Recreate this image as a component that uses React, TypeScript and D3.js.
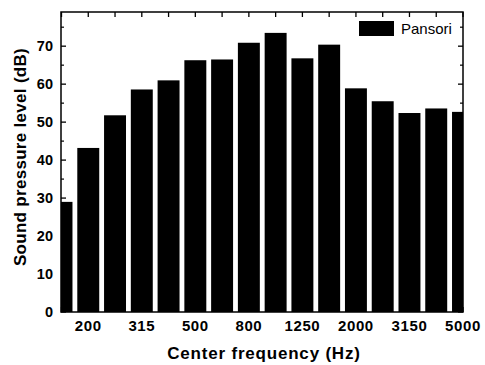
import React from "react";
import * as d3 from "d3";

const categories = ["160","200","250","315","400","500","630","800","1000","1250","1600","2000","2500","3150","4000","5000"];
const pansori = [29.0, 43.2, 51.8, 58.6, 61.0, 66.3, 66.5, 70.9, 73.5, 66.8, 70.4, 58.9, 55.5, 52.4, 53.6, 52.7];
const labeledCategories = ["200","315","500","800","1250","2000","3150","5000"];
const yTicks = [0, 10, 20, 30, 40, 50, 60, 70];
const yMinorTicks = [5, 15, 25, 35, 45, 55, 65, 75];
const seriesName = "Pansori";

export default function App() {
  const W = 485, H = 365;
  const L = 61, T = 12, R = 463, B = 312;
  const x = d3.scalePoint<string>().domain(categories).range([61.5, 463]).padding(0);
  const y = d3.scaleLinear().domain([0, 79]).range([B, T]);
  const bw = x.step() * 0.82;
  const font = "'Liberation Sans', Arial, sans-serif";
  return (
    <svg width={W} height={H} style={{ position: "absolute", left: 0, top: 0, background: "#fff" }}>
      <defs>
        <clipPath id="plot"><rect x={L} y={T} width={R - L} height={B - T} /></clipPath>
      </defs>
      <g clipPath="url(#plot)">
        {categories.map((c, i) => (
          <rect key={c} x={(x(c) as number) - bw / 2} y={y(pansori[i])} width={bw} height={B - y(pansori[i])} fill="#000" />
        ))}
      </g>
      <rect x={L} y={T} width={R - L} height={B - T} fill="none" stroke="#000" strokeWidth={1.5} />
      {categories.map((c) => (
        <g key={"t" + c}>
          <line x1={x(c)} x2={x(c)} y1={T} y2={T + 5} stroke="#000" strokeWidth={1.3} />
          <line x1={x(c)} x2={x(c)} y1={B} y2={B - 5} stroke="#000" strokeWidth={1.3} />
        </g>
      ))}
      {yTicks.map((v) => (
        <g key={"y" + v}>
          <line x1={L} x2={L + 5} y1={y(v)} y2={y(v)} stroke="#000" strokeWidth={1.3} />
          <line x1={R} x2={R - 5} y1={y(v)} y2={y(v)} stroke="#000" strokeWidth={1.3} />
          <text x={53} y={y(v)} dy="0.36em" textAnchor="end" fontFamily={font} fontWeight="bold" fontSize={14.5} fill="#000">{v}</text>
        </g>
      ))}
      {yMinorTicks.map((v) => (
        <g key={"m" + v}>
          <line x1={L} x2={L + 3} y1={y(v)} y2={y(v)} stroke="#000" strokeWidth={1.2} />
          <line x1={R} x2={R - 3} y1={y(v)} y2={y(v)} stroke="#000" strokeWidth={1.2} />
        </g>
      ))}
      {labeledCategories.map((c) => (
        <text key={"l" + c} x={x(c)} y={331} textAnchor="middle" fontFamily={font} fontWeight="bold" fontSize={15} letterSpacing={0.6} fill="#000">{c}</text>
      ))}
      <text x={264} y={359} textAnchor="middle" fontFamily={font} fontWeight="bold" fontSize={17} letterSpacing={0.8} fill="#000">Center frequency (Hz)</text>
      <text transform="translate(26,157) rotate(-90)" textAnchor="middle" fontFamily={font} fontWeight="bold" fontSize={17} letterSpacing={0.3} fill="#000">Sound pressure level (dB)</text>
      <rect x={359} y={21} width={35} height={15} fill="#000" />
      <text x={401} y={33.5} fontFamily={font} fontSize={15} fill="#000">{seriesName}</text>
    </svg>
  );
}
